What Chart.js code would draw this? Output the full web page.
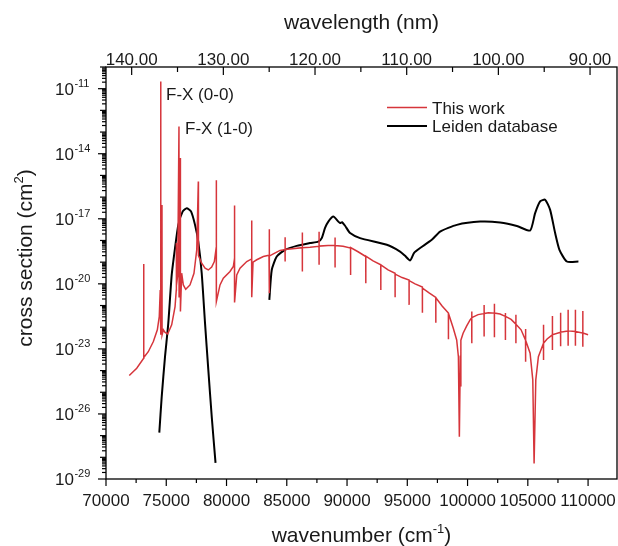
<!DOCTYPE html>
<html>
<head>
<meta charset="utf-8">
<script src="https://cdn.jsdelivr.net/npm/chart.js@4.4.1/dist/chart.umd.min.js"></script>
<style>
  html, body { margin: 0; padding: 0; background: #fff; }
</style>
</head>
<body>
<canvas id="chart" width="618" height="546"></canvas>
<script>
// values, cross sections kept as log10(cm^2)
var workNu = [
  71930, 72550, 73125, 73130, 73135, 73510, 73930, 74260, 74420, 74500,
  74540, 74550, 74645, 74655, 74760, 74900, 75120, 75450, 75730, 75830,
  75835, 75845, 75950, 76055, 76065, 76100, 76166, 76175, 76280, 76415,
  76615, 76970, 77300, 77530, 77660, 77670, 77940, 78220, 78490, 78770,
  78990, 79150, 79155, 79160, 79460, 79735, 80290, 80565, 80660, 80665,
  80670, 80850, 81120, 81680, 82085, 82090, 82095, 82200, 82510, 83055,
  83525, 83528, 83532, 83600, 83885, 84440, 84855, 84858, 84862, 84870,
  85270, 86288, 86291, 86294, 86297, 86930, 87675, 87678, 87681, 87684,
  88424, 89002, 89005, 89008, 89011, 89670, 90291, 90294, 90297, 90914,
  91553, 91556, 91559, 92160, 92799, 92802, 92805, 93404, 93985, 93988,
  93991, 94566, 95146, 95149, 95152, 95644, 96250, 96253, 96256, 96807,
  97363, 97366, 97369, 97887, 98410, 98413, 98416, 98816, 99098, 99240,
  99320, 99400, 99440, 99450, 99630, 99930, 100210, 100345, 100350, 100353,
  100356, 100875, 101369, 101372, 101375, 101378, 101729, 102224, 102227, 102230,
  102233, 102700, 103137, 103140, 103143, 103146, 103614, 104007, 104010, 104013,
  104016, 104442, 104812, 104815, 104818, 104821, 105189, 105413, 105521, 105662,
  105877, 106299, 106302, 106305, 106308, 106600, 107037, 107040, 107043, 107046,
  107717, 107720, 107723, 107726, 108340, 108343, 108346, 108349, 108945, 108948,
  108951, 108954, 109559, 109562, 109565, 109568, 110000
];
var workLog = [
  -24.23, -23.89, -23.43, -19.08, -23.40, -23.13, -22.66, -22.12, -21.51, -20.28,
  -10.67, -22.35, -16.36, -22.35, -22.12, -22.24, -22.31, -21.89, -21.05, -20.30,
  -18.12, -20.10, -19.60, -12.74, -20.60, -19.70, -14.20, -21.28, -19.51, -20.05,
  -20.25, -20.05, -19.51, -18.43, -15.28, -18.70, -19.05, -19.28, -19.36, -19.23,
  -18.97, -18.30, -15.22, -20.82, -20.05, -19.74, -19.43, -19.20, -18.85, -16.39,
  -20.86, -19.59, -19.28, -18.97, -18.85, -17.08, -20.62, -19.00, -18.89, -18.74,
  -18.68, -17.48, -20.43, -18.72, -18.62, -18.46, -18.42, -17.85, -18.97, -18.41,
  -18.39, -18.33, -17.63, -19.43, -18.33, -18.31, -18.27, -17.60, -19.12, -18.26,
  -18.23, -18.23, -17.86, -19.25, -18.23, -18.27, -18.35, -19.59, -18.33, -18.52,
  -18.74, -19.97, -18.72, -18.94, -19.12, -20.28, -19.13, -19.36, -19.51, -20.62,
  -19.55, -19.71, -19.82, -20.97, -19.85, -20.00, -20.15, -21.33, -20.20, -20.42,
  -20.62, -21.79, -20.64, -21.02, -21.35, -22.55, -21.36, -22.05, -22.59, -23.36,
  -27.05, -23.30, -24.74, -22.60, -22.28, -21.94, -21.66, -21.56, -21.28, -22.74,
  -21.56, -21.42, -21.37, -20.97, -22.43, -21.37, -21.33, -21.35, -20.92, -22.46,
  -21.35, -21.39, -21.50, -21.35, -22.59, -21.50, -21.64, -21.86, -21.43, -22.74,
  -21.86, -22.12, -22.60, -22.08, -23.59, -22.60, -23.20, -24.43, -28.28, -24.43,
  -23.36, -22.74, -21.89, -23.51, -22.74, -22.54, -22.35, -21.48, -23.05, -22.35,
  -22.23, -21.33, -22.88, -22.23, -22.17, -21.20, -22.85, -22.17, -22.20, -21.20,
  -22.86, -22.20, -22.27, -21.25, -22.90, -22.27, -22.35
];

var leidenNu = [
  74424, 74623, 74897, 75170, 75452, 75726, 76000, 76366, 76698, 77054,
  77386, 77660, 77942, 78216, 78490, 78772, 79088, 81000,
  83553, 83752, 84167, 84856, 85826, 86930, 87619, 87901, 88175, 88449,
  88864, 89279, 89420, 89588, 89837, 90252, 91082, 93298, 94402, 94817,
  95232, 95564, 96062, 97033, 97722, 99108, 101042, 102702, 104088, 105192,
  105607, 106022, 106437, 106852, 107267, 107624, 108236, 109199
];
var leidenLog = [
  -26.86, -25.20, -23.36, -21.81, -19.59, -18.35, -17.28, -16.66, -16.51, -16.66,
  -17.28, -18.06, -19.51, -21.81, -23.97, -26.12, -28.26, null,
  -20.74, -19.36, -18.74, -18.43, -18.25, -18.12, -18.05, -17.89, -17.42, -17.13,
  -16.90, -17.13, -17.20, -17.16, -17.32, -17.66, -17.89, -18.20, -18.51, -18.71,
  -18.92, -18.57, -18.35, -17.97, -17.59, -17.28, -17.13, -17.17, -17.33, -17.54,
  -16.74, -16.20, -16.12, -16.59, -17.66, -18.43, -18.97, -18.97
];

var nuTicks = [70000, 75000, 80000, 85000, 90000, 95000, 100000, 105000, 110000];
var lambdaTicks = [140, 130, 120, 110, 100, 90];
var decadeLabels = [-29, -26, -23, -20, -17, -14, -11];

var RED = '#d6353b';
var FONT = '"Liberation Sans", Arial, sans-serif';

function toPoints(xs, logs){
  var pts = [];
  for (var i = 0; i < xs.length; i++){
    pts.push({x: xs[i], y: logs[i] === null ? null : Math.pow(10, logs[i])});
  }
  return pts;
}

// draws frame, ticks, labels, titles and legend
var axisDeco = {
  id: 'axisDeco',
  afterDraw: function(chart){
    var ctx = chart.ctx, a = chart.chartArea;
    var xs = chart.scales.x, x2 = chart.scales.x2, ys = chart.scales.y;
    ctx.save();
    ctx.strokeStyle = '#000';
    ctx.fillStyle = '#1a1a1a';
    ctx.lineWidth = 1.3;
    ctx.strokeRect(a.left, a.top, a.right - a.left, a.bottom - a.top);

    function tick(x1, y1, x2p, y2p){
      ctx.beginPath(); ctx.moveTo(x1, y1); ctx.lineTo(x2p, y2p); ctx.stroke();
    }

    // bottom axis
    ctx.lineWidth = 1.2;
    ctx.font = '17px ' + FONT;
    ctx.textAlign = 'center';
    ctx.textBaseline = 'alphabetic';
    nuTicks.forEach(function(v){
      var px = xs.getPixelForValue(v);
      tick(px, a.bottom, px, a.bottom + 7);
      ctx.fillText(String(v), px, 506);
      var m = xs.getPixelForValue(v + 2500);
      if (m < a.right) tick(m, a.bottom, m, a.bottom + 4);
    });

    // top axis, ticks pointing inward
    lambdaTicks.forEach(function(v){
      var px = x2.getPixelForValue(v);
      tick(px, a.top, px, a.top + 8);
      ctx.fillText(v.toFixed(2), px, 65);
      var m = x2.getPixelForValue(v + 5);
      if (m > a.left && m < a.right) tick(m, a.top, m, a.top + 5);
    });

    // left axis, log ticks
    for (var d = -29; d <= -10; d++){
      var py = ys.getPixelForValue(Math.pow(10, d));
      var major = decadeLabels.indexOf(d) >= 0;
      tick(a.left, py, a.left - (major ? 8 : 6), py);
      if (d < -10){
        for (var k = 2; k <= 9; k++){
          var mp = ys.getPixelForValue(k * Math.pow(10, d));
          tick(a.left, mp, a.left - 4, mp);
        }
      }
    }
    ctx.textAlign = 'left';
    decadeLabels.forEach(function(d){
      var py = ys.getPixelForValue(Math.pow(10, d));
      ctx.font = '17px ' + FONT;
      ctx.fillText('10', 55, py + 6);
      var w = ctx.measureText('10').width;
      ctx.font = '11px ' + FONT;
      ctx.fillText(String(d), 55 + w + 0.5, py - 2);
    });

    // axis titles
    function supText(parts, x, y, center){
      var total = 0;
      parts.forEach(function(p){ ctx.font = p.size + 'px ' + FONT; total += ctx.measureText(p.t).width; });
      var cx = center ? x - total / 2 : x;
      parts.forEach(function(p){
        ctx.font = p.size + 'px ' + FONT;
        ctx.fillText(p.t, cx, y - (p.up || 0));
        cx += ctx.measureText(p.t).width;
      });
    }
    ctx.textAlign = 'left';
    supText([{t: 'wavenumber (cm', size: 21}, {t: '-1', size: 13, up: 9}, {t: ')', size: 21}], (a.left + a.right) / 2, 541.5, true);
    supText([{t: 'wavelength (nm)', size: 21}], (a.left + a.right) / 2, 29, true);
    ctx.save();
    ctx.translate(32, 258);
    ctx.rotate(-Math.PI / 2);
    supText([{t: 'cross section (cm', size: 21}, {t: '2', size: 13, up: 9}, {t: ')', size: 21}], 0, 0, true);
    ctx.restore();

    // band labels
    ctx.font = '17px ' + FONT;
    ctx.fillText('F-X (0-0)', 166, 100);
    ctx.fillText('F-X (1-0)', 185, 134);

    // legend
    var items = [{c: RED, t: 'This work', y: 107.5, w: 1.5}, {c: '#000', t: 'Leiden database', y: 126, w: 2}];
    items.forEach(function(it){
      ctx.strokeStyle = it.c; ctx.lineWidth = it.w;
      tick(387, it.y, 427, it.y);
      ctx.fillStyle = '#1a1a1a';
      ctx.fillText(it.t, 432, it.y + 6);
    });
    ctx.restore();
  }
};

var chart = new Chart(document.getElementById('chart'), {
  type: 'line',
  data: {
    datasets: [
      {
        label: 'This work',
        data: toPoints(workNu, workLog),
        borderColor: RED,
        borderWidth: 1.5,
        pointRadius: 0,
        tension: 0
      },
      {
        label: 'Leiden database',
        data: toPoints(leidenNu, leidenLog),
        borderColor: '#000',
        borderWidth: 2,
        pointRadius: 0,
        tension: 0.2,
        spanGaps: false
      }
    ]
  },
  options: {
    responsive: false,
    animation: false,
    layout: { padding: { right: 1 } },
    plugins: { legend: { display: false }, tooltip: { enabled: false } },
    scales: {
      x: {
        type: 'linear', position: 'bottom', min: 70000, max: 112400,
        grid: { display: false }, border: { display: false }, ticks: { display: false },
        afterFit: function(s){ s.height = 67; }
      },
      x2: {
        type: 'linear', position: 'top', min: 87.06, max: 142.8, reverse: true,
        grid: { display: false }, border: { display: false }, ticks: { display: false },
        afterFit: function(s){ s.height = 67; }
      },
      y: {
        type: 'logarithmic', min: 1e-29, max: 1e-10,
        grid: { display: false }, border: { display: false }, ticks: { display: false },
        afterFit: function(s){ s.width = 106; }
      }
    }
  },
  plugins: [axisDeco]
});
</script>
</body>
</html>
